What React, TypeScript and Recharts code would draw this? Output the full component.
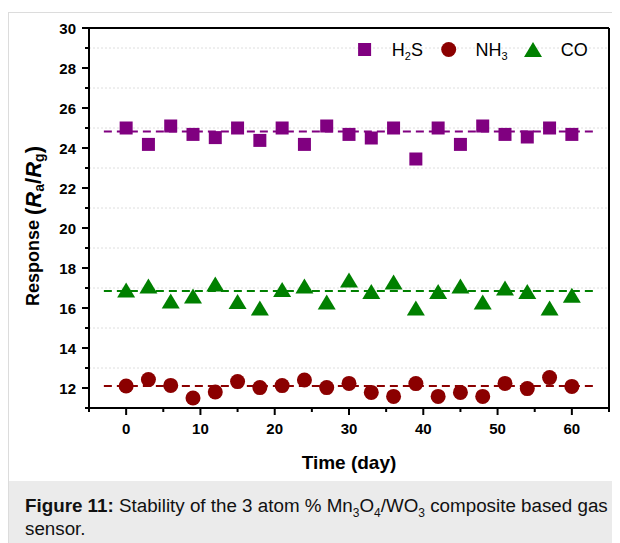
import React from 'react';
import {
  ComposedChart,
  Scatter,
  XAxis,
  YAxis,
  ReferenceLine,
  Legend,
} from 'recharts';

const days = [0, 3, 6, 9, 12, 15, 18, 21, 24, 27, 30, 33, 36, 39, 42, 45, 48, 51, 54, 57, 60];
const h2sValues = [25.0, 24.18, 25.1, 24.68, 24.52, 25.0, 24.38, 25.0, 24.18, 25.1, 24.68, 24.5, 25.0, 23.45, 25.0, 24.18, 25.1, 24.68, 24.55, 25.0, 24.68];
const nh3Values = [12.1, 12.42, 12.13, 11.5, 11.8, 12.32, 12.02, 12.12, 12.4, 12.02, 12.23, 11.78, 11.58, 12.22, 11.58, 11.78, 11.58, 12.23, 11.97, 12.52, 12.08];
const coValues = [16.9, 17.1, 16.35, 16.6, 17.2, 16.33, 16.0, 16.92, 17.1, 16.3, 17.4, 16.82, 17.3, 16.0, 16.82, 17.1, 16.3, 17.0, 16.82, 16.0, 16.64];
const meanValues = { h2s: 24.82, nh3: 12.1, co: 16.85 };
const meanSpan = [-3, 63];
const xTicks = [-5, 0, 5, 10, 15, 20, 25, 30, 35, 40, 45, 50, 55, 60, 65];
const yTicks = [11, 12, 13, 14, 15, 16, 17, 18, 19, 20, 21, 22, 23, 24, 25, 26, 27, 28, 29, 30];
const gridValues = [13, 15, 17, 19, 21, 23, 25, 27, 29];

const PURPLE = '#800080';
const DARKRED = '#8b0000';
const GREEN = '#008000';
const FONT = '"Liberation Sans", Arial, Helvetica, sans-serif';

const toPoints = (vals: number[]) => days.map((d, i) => ({ x: d, y: vals[i] }));
const h2sData = toPoints(h2sValues);
const nh3Data = toPoints(nh3Values);
const coData = toPoints(coValues);

const SquareShape = (p: any) => (
  <rect x={p.cx - 6.5} y={p.cy - 6.5} width={13} height={13} fill={PURPLE} />
);
const CircleShape = (p: any) => <circle cx={p.cx} cy={p.cy} r={7.5} fill={DARKRED} />;
const TriangleShape = (p: any) => (
  <polygon
    points={`${p.cx},${p.cy - 7.5} ${p.cx + 9},${p.cy + 7.5} ${p.cx - 9},${p.cy + 7.5}`}
    fill={GREEN}
  />
);

const XTick = (p: any) => {
  const v = p.payload.value;
  const major = v % 10 === 0;
  return (
    <g>
      <line x1={p.x} x2={p.x} y1={p.y} y2={p.y + (major ? 7 : 4)} stroke="#000" strokeWidth={2} />
      {major && (
        <text x={p.x} y={p.y + 26} textAnchor="middle" fontFamily={FONT} fontWeight="bold" fontSize={15} fill="#000">
          {v}
        </text>
      )}
    </g>
  );
};

const YTick = (p: any) => {
  const v = p.payload.value;
  const major = v % 2 === 0;
  return (
    <g>
      <line x1={p.x} x2={p.x - (major ? 7 : 4)} y1={p.y} y2={p.y} stroke="#000" strokeWidth={2} />
      {major && (
        <text x={p.x - 13} y={p.y + 5.5} textAnchor="end" fontFamily={FONT} fontWeight="bold" fontSize={15} fill="#000">
          {v}
        </text>
      )}
    </g>
  );
};

const YLabel = (p: any) => {
  const vb = p.viewBox || { x: 0, y: 0, width: 0, height: 0 };
  const cx = vb.x + 4;
  const cy = vb.y + vb.height / 2 + 8;
  return (
    <text
      x={cx}
      y={cy}
      transform={`rotate(-90 ${cx} ${cy})`}
      textAnchor="middle"
      dominantBaseline="central"
      fontFamily={FONT}
      fontWeight="bold"
      fontSize={18}
      fill="#000"
    >
      <tspan>Response </tspan>
      <tspan fontSize={22}>(</tspan>
      <tspan fontSize={22} fontStyle="italic">R</tspan>
      <tspan fontSize={14} dy={6}>a</tspan>
      <tspan fontSize={22} dy={-6}>/</tspan>
      <tspan fontSize={22} fontStyle="italic">R</tspan>
      <tspan fontSize={14} dy={6}>g</tspan>
      <tspan fontSize={22} dy={-6}>)</tspan>
    </text>
  );
};

const XLabel = (p: any) => {
  const vb = p.viewBox || { x: 0, y: 0, width: 0, height: 0 };
  return (
    <text
      x={vb.x + vb.width / 2}
      y={vb.y + 61}
      textAnchor="middle"
      fontFamily={FONT}
      fontWeight="bold"
      fontSize={19}
      fill="#000"
    >
      Time (day)
    </text>
  );
};

const LegendContent = () => (
  <svg width={260} height={26} style={{ display: 'block' }}>
    <rect x={16.6 - 6.5} y={11.5 - 6.5} width={13} height={13} fill={PURPLE} />
    <text x={43.8} y={18} fontFamily={FONT} fontSize={18} fill="#000">
      H<tspan fontSize={11} dy={4}>2</tspan><tspan dy={-4}>S</tspan>
    </text>
    <circle cx={100.7} cy={11.5} r={7.5} fill={DARKRED} />
    <text x={127.5} y={18} fontFamily={FONT} fontSize={18} fill="#000">
      NH<tspan fontSize={11} dy={4}>3</tspan>
    </text>
    <polygon points={`185,${11.5 - 7.5} ${185 + 9},${11.5 + 7.5} ${185 - 9},${11.5 + 7.5}`} fill={GREEN} />
    <text x={212.7} y={18} fontFamily={FONT} fontSize={18} fill="#000">
      CO
    </text>
  </svg>
);

const subStyle: React.CSSProperties = { fontSize: 12, position: 'relative', top: 5, lineHeight: 0 };

export default function App() {
  return (
    <div style={{ position: 'relative', width: 612, height: 535, fontFamily: FONT }}>
      <div
        style={{
          position: 'absolute',
          left: 0,
          top: 4,
          width: 612,
          height: 531,
          borderLeft: '1px solid #dcdcdc',
          borderTop: '1px solid #dcdcdc',
          background: '#fff',
          boxSizing: 'border-box',
        }}
      />
      <div
        style={{
          position: 'absolute',
          left: 1,
          top: 473,
          width: 611,
          height: 62,
          background: '#ebebeb',
        }}
      />
      <div
        style={{
          position: 'absolute',
          left: 17,
          top: 486,
          width: 595,
          fontSize: 18.8,
          lineHeight: '23px',
          color: '#111',
          fontFamily: FONT,
          whiteSpace: 'nowrap',
        }}
      >
        <div>
          <b>Figure 11:</b> Stability of the 3 atom % Mn<span style={subStyle}>3</span>O
          <span style={subStyle}>4</span>/WO<span style={subStyle}>3</span> composite based gas
        </div>
        <div>sensor.</div>
      </div>
      <div style={{ position: 'absolute', left: 0, top: 0 }}>
        <ComposedChart
          width={612}
          height={473}
          margin={{ top: 20, right: 11, left: 21, bottom: 13 }}
        >
          <XAxis
            dataKey="x"
            type="number"
            domain={[-5, 65]}
            ticks={xTicks}
            interval={0}
            allowDataOverflow
            tick={XTick}
            tickLine={false}
            tickSize={0}
            tickMargin={0}
            height={60}
            axisLine={{ stroke: '#000', strokeWidth: 2 }}
            label={<XLabel />}
          />
          <YAxis
            dataKey="y"
            type="number"
            domain={[11, 30]}
            ticks={yTicks}
            interval={0}
            allowDataOverflow
            tick={YTick}
            tickLine={false}
            tickSize={0}
            tickMargin={0}
            width={60}
            axisLine={{ stroke: '#000', strokeWidth: 2 }}
            label={<YLabel />}
          />
          {gridValues.map((g) => (
            <ReferenceLine key={g} y={g} stroke="#dedede" strokeDasharray="2 2" strokeWidth={1} />
          ))}
          <ReferenceLine y={30} stroke="#000" strokeWidth={2} />
          <ReferenceLine x={65} stroke="#000" strokeWidth={2} />
          <ReferenceLine
            segment={[{ x: meanSpan[0], y: meanValues.h2s }, { x: meanSpan[1], y: meanValues.h2s }]}
            stroke={PURPLE}
            strokeWidth={2}
            strokeDasharray="8 5"
          />
          <ReferenceLine
            segment={[{ x: meanSpan[0], y: meanValues.co }, { x: meanSpan[1], y: meanValues.co }]}
            stroke={GREEN}
            strokeWidth={2}
            strokeDasharray="8 5"
          />
          <ReferenceLine
            segment={[{ x: meanSpan[0], y: meanValues.nh3 }, { x: meanSpan[1], y: meanValues.nh3 }]}
            stroke={DARKRED}
            strokeWidth={2}
            strokeDasharray="8 5"
          />
          <Scatter name="H2S" data={h2sData} shape={SquareShape} isAnimationActive={false} />
          <Scatter name="NH3" data={nh3Data} shape={CircleShape} isAnimationActive={false} />
          <Scatter name="CO" data={coData} shape={TriangleShape} isAnimationActive={false} />
          <Legend
            layout="horizontal"
            verticalAlign="middle"
            align="center"
            content={<LegendContent />}
            wrapperStyle={{ position: 'absolute', left: 340, top: 30, width: 260, height: 26 }}
          />
        </ComposedChart>
      </div>
    </div>
  );
}
